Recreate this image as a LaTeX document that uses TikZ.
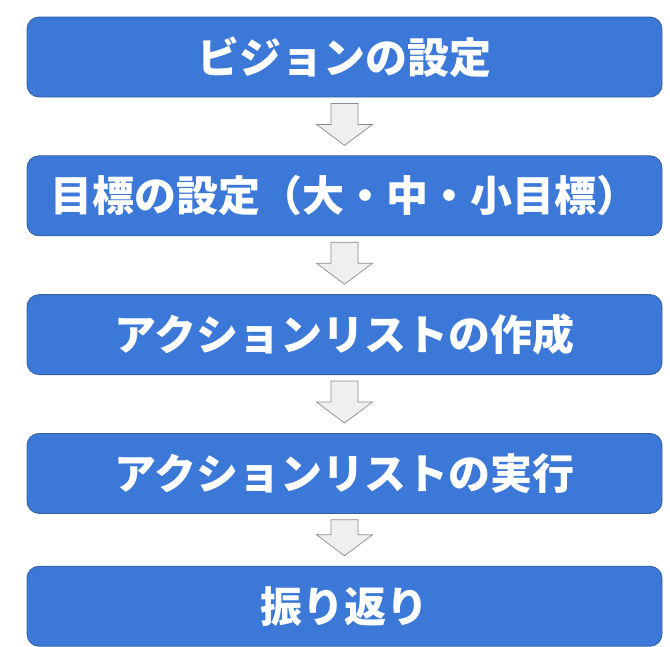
\documentclass[tikz,border=0pt]{standalone}
\usepackage{fontspec}
\newfontfamily\jpfont{Noto Sans CJK JP}
\usepackage{xcolor}
\usepackage{tikz}
\usetikzlibrary{positioning, calc}
\definecolor{StepBlue}{HTML}{3C78D8}
\definecolor{StepEdge}{HTML}{34609F}
\definecolor{ArrowFill}{HTML}{EFEFEF}
\definecolor{ArrowEdge}{HTML}{8C8C8C}

\begin{document}
\begin{tikzpicture}[
    stepbox/.style={
      rounded corners=12pt, minimum width=635pt, minimum height=80pt,
      inner sep=0pt, draw=StepEdge, fill=StepBlue, line width=0.8pt,
      text=white, font=\jpfont\bfseries\fontsize{42}{47}\selectfont
    },
    flowarrow/.style={draw=ArrowEdge, fill=ArrowFill, line width=0.7pt}
  ]
    \useasboundingbox (0pt,0pt) rectangle (670pt,-646pt);
    \node[stepbox] (s1) at (344.5pt,-57pt) {ビジョンの設定};
    \node[stepbox, below=58pt of s1] (s2) {目標の設定（大・中・小目標）};
    \node[stepbox, below=58pt of s2] (s3) {アクションリストの作成};
    \node[stepbox, below=58pt of s3] (s4) {アクションリストの実行};
    \node[stepbox, below=52pt of s4] (s5) {振り返り};
    % block arrows between the steps
    \foreach \a/\b in {s1/s2, s2/s3, s3/s4, s4/s5} {
      \coordinate (top-\a) at ($(\a.south)+(0,-6pt)$);
      \coordinate (tip-\a) at ($(\b.north)+(0,10pt)$);
      \draw[flowarrow]
        ($(top-\a)+(-13.5pt,0)$) -- ($(top-\a)+(13.5pt,0)$)
        -- ($(tip-\a)+(13.5pt,21pt)$) -- ($(tip-\a)+(28pt,21pt)$)
        -- (tip-\a)
        -- ($(tip-\a)+(-28pt,21pt)$) -- ($(tip-\a)+(-13.5pt,21pt)$) -- cycle;
    }
  \end{tikzpicture}
\end{document}
